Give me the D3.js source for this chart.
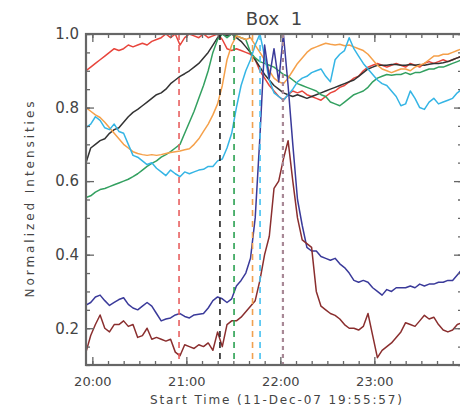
<!DOCTYPE html>
<html>
<head>
<meta charset="utf-8">
<script src="https://cdn.jsdelivr.net/npm/d3@7"></script>
<style>
  body { margin: 0; background: #fff; }
  svg { display: block; }
  text { font-family: "DejaVu Sans", sans-serif; fill: #444; }
</style>
</head>
<body>
<div id="chart"></div>
<script>
// 采样时刻：从 19:55:57 起，每 3 分钟一个点
const startTime = new Date(2007, 11, 11, 19, 55, 57);
const minutes = d3.range(0, 241, 3);

// 各区域的归一化强度
const redSeries = [0.90,0.91,0.92,0.93,0.94,0.95,0.96,0.955,0.96,0.97,
  0.965,0.97,0.975,0.97,0.98,0.985,0.99,1.0,0.99,1.0,
  0.97,0.99,1.0,0.995,0.99,1.0,0.99,0.995,1.0,0.985,
  0.96,0.955,0.96,0.955,0.95,0.945,0.93,0.90,0.88,0.86,
  0.845,0.83,0.82,0.835,0.845,0.84,0.845,0.835,0.83,0.825,
  0.82,0.83,0.84,0.845,0.855,0.86,0.87,0.88,0.885,0.90,
  0.91,0.915,0.92,0.915,0.91,0.915,0.92,0.915,0.91,0.92,
  0.915,0.91,0.92,0.925,0.92,0.925,0.93,0.925,0.93,0.935,
  0.94];
const blackSeries = [0.65,0.69,0.70,0.71,0.715,0.73,0.74,0.745,0.76,0.775,
  0.787,0.795,0.805,0.815,0.825,0.835,0.84,0.85,0.865,0.875,
  0.885,0.892,0.90,0.91,0.92,0.935,0.95,0.97,0.99,1.0,
  0.995,1.0,0.99,0.98,0.965,0.95,0.93,0.91,0.89,0.875,
  0.86,0.85,0.84,0.835,0.83,0.835,0.83,0.825,0.83,0.835,
  0.84,0.845,0.85,0.855,0.86,0.865,0.87,0.875,0.885,0.895,
  0.905,0.91,0.915,0.915,0.915,0.917,0.917,0.915,0.915,0.917,
  0.915,0.917,0.915,0.918,0.92,0.92,0.922,0.925,0.93,0.935,
  0.94];
const greenSeries = [0.555,0.56,0.57,0.577,0.58,0.585,0.59,0.595,0.60,0.605,
  0.612,0.62,0.63,0.64,0.648,0.655,0.665,0.672,0.68,0.69,
  0.70,0.73,0.76,0.79,0.825,0.86,0.90,0.95,0.985,1.0,
  0.99,1.0,0.995,0.99,0.985,0.95,0.935,0.925,0.92,0.915,
  0.91,0.90,0.89,0.885,0.875,0.865,0.86,0.855,0.85,0.845,
  0.835,0.83,0.815,0.81,0.805,0.815,0.825,0.835,0.84,0.845,
  0.855,0.87,0.88,0.885,0.89,0.888,0.89,0.89,0.895,0.89,
  0.895,0.895,0.90,0.905,0.905,0.91,0.91,0.915,0.92,0.925,
  0.93];
const orangeSeries = [0.80,0.79,0.78,0.773,0.76,0.745,0.73,0.715,0.70,0.69,
  0.68,0.675,0.672,0.67,0.672,0.67,0.672,0.675,0.678,0.68,
  0.682,0.685,0.688,0.70,0.715,0.735,0.755,0.78,0.81,0.86,
  0.93,0.97,0.995,0.99,0.985,0.99,0.97,0.95,0.93,0.90,
  0.88,0.87,0.865,0.88,0.90,0.92,0.935,0.95,0.96,0.965,
  0.97,0.975,0.972,0.97,0.972,0.968,0.97,0.965,0.96,0.955,
  0.945,0.93,0.915,0.905,0.90,0.895,0.90,0.905,0.905,0.90,
  0.91,0.915,0.92,0.93,0.94,0.94,0.945,0.945,0.95,0.955,
  0.96];
const cyanSeries = [0.745,0.755,0.775,0.765,0.745,0.74,0.755,0.735,0.73,0.70,
  0.67,0.665,0.655,0.645,0.65,0.635,0.625,0.615,0.63,0.62,
  0.612,0.625,0.62,0.625,0.63,0.632,0.64,0.64,0.655,0.66,
  0.69,0.73,0.80,0.86,0.90,0.93,0.97,1.0,0.94,0.875,
  0.84,0.83,0.82,0.835,0.85,0.87,0.88,0.885,0.895,0.90,
  0.905,0.885,0.87,0.93,0.945,0.955,0.99,0.96,0.94,0.92,
  0.905,0.89,0.875,0.865,0.86,0.845,0.83,0.805,0.81,0.845,
  0.825,0.80,0.795,0.815,0.825,0.81,0.815,0.82,0.825,0.84,
  0.85];
const navySeries = [0.263,0.27,0.285,0.29,0.275,0.262,0.27,0.278,0.283,0.265,
  0.255,0.25,0.26,0.27,0.26,0.24,0.22,0.225,0.228,0.236,
  0.24,0.232,0.228,0.236,0.238,0.24,0.255,0.275,0.285,0.28,
  0.27,0.28,0.315,0.33,0.35,0.39,0.50,0.72,0.97,0.88,
  0.96,0.87,1.0,0.86,0.70,0.55,0.48,0.42,0.41,0.41,
  0.395,0.39,0.385,0.39,0.375,0.365,0.35,0.33,0.325,0.33,
  0.325,0.31,0.30,0.29,0.305,0.30,0.31,0.31,0.31,0.315,
  0.31,0.32,0.315,0.32,0.32,0.325,0.325,0.33,0.33,0.345,
  0.36];
const brownSeries = [0.135,0.18,0.21,0.236,0.20,0.19,0.21,0.21,0.22,0.205,
  0.21,0.175,0.18,0.20,0.17,0.175,0.17,0.165,0.17,0.135,
  0.125,0.155,0.15,0.145,0.155,0.15,0.16,0.14,0.19,0.15,
  0.21,0.22,0.22,0.23,0.245,0.26,0.275,0.33,0.40,0.45,
  0.58,0.60,0.66,0.71,0.60,0.50,0.44,0.43,0.42,0.30,
  0.26,0.25,0.24,0.235,0.225,0.21,0.20,0.20,0.195,0.205,
  0.24,0.18,0.12,0.14,0.15,0.16,0.175,0.19,0.215,0.21,
  0.205,0.22,0.235,0.225,0.23,0.21,0.195,0.19,0.195,0.21,
  0.215];

const seriesColors = ["#e8453c", "#333333", "#33a060", "#f5a04a", "#35b5e5", "#3a3a9a", "#8a2e2e"];
const allSeries = [redSeries, blackSeries, greenSeries, orangeSeries, cyanSeries, navySeries, brownSeries];

// 各区域峰值时刻（虚线）
const peakTimes = ["20:55:20", "21:21:27", "21:30:27", "21:42:15", "21:47:03", "22:01:39"];
const peakColors = ["#e86060", "#222222", "#2aa050", "#f0a050", "#45c0f0", "#a88896"];

const yMajorTicks = [0.2, 0.4, 0.6, 0.8, 1.0];

// 基本配置
const width = 460, height = 415;
const plotLeft = 86, plotRight = 462, plotTop = 34, plotBottom = 365;

const svg = d3.select("#chart").append("svg")
    .attr("width", width)
    .attr("height", height);

const x = d3.scaleTime()
    .domain([startTime, d3.timeHour.offset(startTime, 4)])
    .range([plotLeft, plotRight]);
const y = d3.scaleLinear()
    .domain([0.1, 1.0])
    .range([plotBottom, plotTop]);

svg.append("defs").append("clipPath").attr("id", "plotClip")
  .append("rect")
    .attr("x", plotLeft).attr("y", plotTop - 1)
    .attr("width", plotRight - plotLeft).attr("height", plotBottom - plotTop + 2);

const toDate = m => d3.timeMinute.offset(startTime, m);
const parseClock = s => {
    const [h, mi, se] = s.split(":").map(Number);
    return new Date(2007, 11, 11, h, mi, se);
};

const plot = svg.append("g").attr("clip-path", "url(#plotClip)");

// 曲线
const line = d3.line()
    .x((d, i) => x(toDate(minutes[i])))
    .y(d => y(d));

allSeries.forEach((s, k) => {
    plot.append("path")
        .datum(s)
        .attr("fill", "none")
        .attr("stroke", seriesColors[k])
        .attr("stroke-width", 1.5)
        .attr("stroke-linejoin", "round")
        .attr("d", line);
});

// 虚线
peakTimes.forEach((t, k) => {
    const px = x(parseClock(t));
    plot.append("line")
        .attr("x1", px).attr("x2", px)
        .attr("y1", plotTop).attr("y2", plotBottom)
        .attr("stroke", peakColors[k])
        .attr("stroke-width", k === 5 ? 2.2 : 1.6)
        .attr("stroke-dasharray", k === 5 ? "4,4" : "6,5");
});

// 坐标轴
const axisColor = "#666";
function styleAxis(g) {
    g.select(".domain").remove();
    g.selectAll("line").attr("stroke", axisColor).attr("stroke-width", 1.3);
}

const hourTicks = d3.timeHour.every(1);
const tenMin = d3.timeMinute.every(10);
const yMinor = d3.range(0.1, 1.0001, 0.05);

// 底部
svg.append("g").attr("transform", `translate(0,${plotBottom})`)
    .call(d3.axisBottom(x).ticks(tenMin).tickSize(-4).tickFormat(""))
    .call(styleAxis);
svg.append("g").attr("transform", `translate(0,${plotBottom})`)
    .call(d3.axisBottom(x).ticks(hourTicks).tickSize(-8).tickPadding(12)
        .tickFormat(d3.timeFormat("%H:%M")))
    .call(styleAxis)
    .selectAll("text").style("font-size", "13px");
// 顶部
svg.append("g").attr("transform", `translate(0,${plotTop})`)
    .call(d3.axisTop(x).ticks(tenMin).tickSize(-4).tickFormat(""))
    .call(styleAxis);
svg.append("g").attr("transform", `translate(0,${plotTop})`)
    .call(d3.axisTop(x).ticks(hourTicks).tickSize(-8).tickFormat(""))
    .call(styleAxis);
// 左侧
svg.append("g").attr("transform", `translate(${plotLeft},0)`)
    .call(d3.axisLeft(y).tickValues(yMinor).tickSize(-4).tickFormat(""))
    .call(styleAxis);
svg.append("g").attr("transform", `translate(${plotLeft},0)`)
    .call(d3.axisLeft(y).tickValues(yMajorTicks).tickSize(-8).tickPadding(7)
        .tickFormat(d3.format(".1f")))
    .call(styleAxis)
    .selectAll("text").style("font-size", "15px");
// 右侧
svg.append("g").attr("transform", `translate(${plotRight},0)`)
    .call(d3.axisRight(y).tickValues(yMinor).tickSize(-4).tickFormat(""))
    .call(styleAxis);
svg.append("g").attr("transform", `translate(${plotRight},0)`)
    .call(d3.axisRight(y).tickValues(yMajorTicks).tickSize(-8).tickFormat(""))
    .call(styleAxis);

// 边框
svg.append("rect")
    .attr("x", plotLeft).attr("y", plotTop)
    .attr("width", plotRight - plotLeft).attr("height", plotBottom - plotTop)
    .attr("fill", "none")
    .attr("stroke", axisColor)
    .attr("stroke-width", 2.2);

// 文字
svg.append("text")
    .attr("x", (plotLeft + plotRight) / 2).attr("y", 25)
    .attr("text-anchor", "middle")
    .attr("xml:space", "preserve")
    .style("font-size", "18px")
    .style("white-space", "pre")
    .text("Box  1");

svg.append("text")
    .attr("x", 276).attr("y", 404)
    .attr("text-anchor", "middle")
    .style("font-size", "12px")
    .attr("textLength", 252)
    .text("Start Time (11-Dec-07 19:55:57)");

svg.append("text")
    .attr("transform", `translate(34,${(plotTop + plotBottom) / 2}) rotate(-90)`)
    .attr("text-anchor", "middle")
    .style("font-size", "12px")
    .attr("textLength", 196)
    .text("Normalized Intensities");
</script>
</body>
</html>
